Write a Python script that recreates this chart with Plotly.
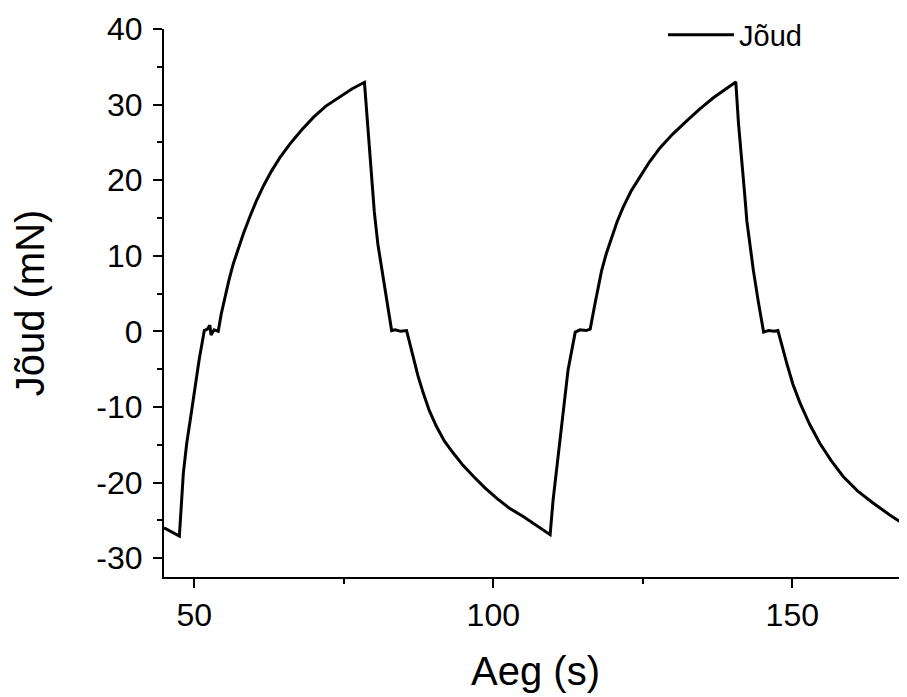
import plotly.graph_objects as go

# Time (s) and force (mN)
time_s = [
    44.93, 46.0, 47.5,
    48.16, 48.73, 49.4, 50.1, 50.8, 51.67,
    52.2, 52.6, 52.8, 53.3, 54.0,
    54.5, 55.1, 55.8, 56.5, 57.3, 58.2, 59.3, 60.4, 61.6, 62.9, 64.4,
    66.0, 67.9, 69.9, 72.0, 74.4, 76.4, 78.45,
    79.0, 79.5, 80.1, 80.7, 81.4, 82.2, 83.0,
    83.6, 84.5, 85.5,
    86.6, 87.4, 88.3, 89.3, 90.5, 91.8, 93.3, 94.9, 96.7, 98.6,
    100.6, 102.7, 105.0, 107.3, 109.5,
    110.0, 110.9, 111.7, 112.5, 113.7,
    114.5, 115.5, 116.2,
    117.0, 118.1, 118.9, 119.8, 120.7, 121.7, 123.0, 124.5, 126.1,
    127.9, 130.0, 132.3, 134.5, 136.8, 138.7, 140.55,
    141.0, 141.5, 142.0, 142.4, 143.0, 143.5, 144.3, 145.2,
    146.0, 147.0, 147.6,
    148.3, 149.1, 150.1, 151.3, 152.9, 154.6, 156.5, 158.5, 160.9,
    163.5, 166.3, 169.2,
]
force_mN = [
    -26.0, -26.5, -27.1,
    -18.8, -14.8, -11.3, -7.3, -3.8, 0.1,
    0.3, 0.8, -0.5, 0.2, 0.0,
    2.3, 4.5, 6.8, 8.9, 10.9, 12.9, 15.2, 17.3, 19.3, 21.2, 23.1,
    24.8, 26.6, 28.3, 29.8, 31.1, 32.1, 32.95,
    27.0, 21.5, 15.8, 11.5, 8.0, 4.0, 0.1,
    0.2, 0.0, 0.1,
    -3.4, -5.9, -8.2, -10.5, -12.6, -14.5, -16.1, -17.7, -19.2, -20.7,
    -22.1, -23.4, -24.5, -25.7, -26.9,
    -22.3, -16.1, -10.0, -5.1, -0.1,
    0.2, 0.1, 0.3,
    3.65, 8.0, 10.3, 12.4, 14.5, 16.4, 18.5, 20.4, 22.4,
    24.3, 26.1, 27.8, 29.4, 30.9, 32.0, 33.0,
    27.5, 23.4, 18.5, 14.6, 11.0, 8.0, 4.0, -0.1,
    0.1, 0.0, 0.1,
    -2.0, -4.3, -7.0, -9.5, -12.3, -14.8, -17.1, -19.2, -21.1,
    -22.7, -24.3, -25.8,
]

x_ticks = [50, 100, 150]
x_tick_labels = ["50", "100", "150"]
y_ticks = [-30, -20, -10, 0, 10, 20, 30, 40]
y_tick_labels = ["-30", "-20", "-10", "0", "10", "20", "30", "40"]

FONT = "Liberation Sans, Arial, sans-serif"

fig = go.Figure()
fig.add_trace(go.Scatter(
    x=time_s, y=force_mN, mode="lines", name="Jõud",
    line=dict(color="black", width=3),
))

fig.update_layout(
    width=899, height=689,
    margin=dict(l=156, r=0, t=21, b=120, autoexpand=False),
    paper_bgcolor="white", plot_bgcolor="white",
    font=dict(family=FONT, color="black", size=32),
    showlegend=True,
    legend=dict(
        x=(663 - 164) / 743, y=1 - 6 / 548, xanchor="left", yanchor="middle",
        font=dict(family=FONT, size=29, color="black"),
        bgcolor="rgba(0,0,0,0)", itemwidth=66,
    ),
    xaxis=dict(
        range=[44.93, 169.18], tickvals=x_ticks, ticktext=x_tick_labels,
        showline=True, linecolor="black", linewidth=2,
        ticks="outside", ticklen=9, tickwidth=2, tickcolor="black",
        minor=dict(ticks="outside", ticklen=5, tickwidth=2, tickcolor="black", dtick=25, tick0=0),
        showgrid=False, zeroline=False, mirror=False,
        tickfont=dict(size=32),
        title=dict(text="Aeg (s)", font=dict(size=40), standoff=25),
    ),
    yaxis=dict(
        range=[-32.5, 40], tickvals=y_ticks, ticktext=y_tick_labels,
        showline=True, linecolor="black", linewidth=2,
        ticks="outside", ticklen=9, tickwidth=2, tickcolor="black",
        minor=dict(ticks="outside", ticklen=5, tickwidth=2, tickcolor="black", dtick=5, tick0=0),
        showgrid=False, zeroline=False, mirror=False,
        tickfont=dict(size=32), ticklabelstandoff=4,
        title=dict(text="Jõud (mN)", font=dict(size=40), standoff=49),
    ),
)

fig.write_html("out.html")
